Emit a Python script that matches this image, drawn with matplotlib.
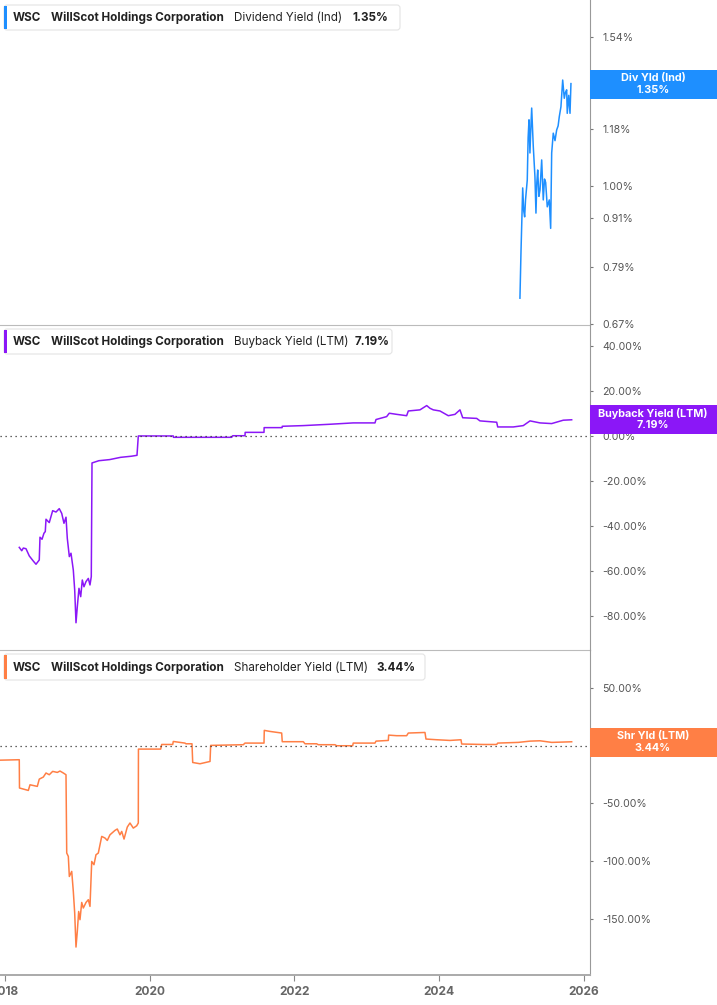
import matplotlib
matplotlib.use("Agg")
import matplotlib.pyplot as plt
import matplotlib.patches as mpatches
from matplotlib.ticker import FixedLocator, NullLocator, FuncFormatter

plt.rcParams['font.family'] = ['Inter', 'DejaVu Sans']

# ---- data (x in decimal years, values in %) ----
div_t = [2025.113, 2025.127, 2025.151, 2025.165, 2025.178, 2025.190, 2025.214, 2025.226,
         2025.238, 2025.251, 2025.263, 2025.275, 2025.297, 2025.320, 2025.334, 2025.346,
         2025.358, 2025.375, 2025.390, 2025.413, 2025.435, 2025.452, 2025.468, 2025.490,
         2025.518, 2025.537, 2025.551, 2025.573, 2025.597, 2025.620, 2025.640, 2025.656,
         2025.679, 2025.703, 2025.725, 2025.740, 2025.758, 2025.766, 2025.786, 2025.804,
         2025.817]
div_v = [0.722, 0.823, 0.994, 0.930, 0.914, 0.960, 1.017, 1.150, 1.211, 1.100, 1.180,
         1.253, 1.121, 1.027, 0.924, 1.010, 1.047, 0.970, 0.988, 1.078, 0.960, 1.020,
         1.010, 0.941, 0.960, 0.884, 1.100, 1.165, 1.140, 1.176, 1.190, 1.222,
         1.258, 1.359, 1.289, 1.310, 1.321, 1.234, 1.300, 1.234, 1.345]

bb_t = [2018.202, 2018.236, 2018.258, 2018.295, 2018.340, 2018.396, 2018.433, 2018.478,
        2018.488, 2018.516, 2018.543, 2018.561, 2018.571, 2018.616, 2018.663, 2018.709,
        2018.754, 2018.788, 2018.819, 2018.847, 2018.865, 2018.893, 2018.916, 2018.948,
        2018.967, 2018.985, 2019.003, 2019.026, 2019.050, 2019.072, 2019.095, 2019.123,
        2019.155, 2019.178, 2019.196, 2019.206, 2019.300, 2019.450, 2019.600, 2019.750,
        2019.827, 2019.845, 2020.328, 2020.330, 2021.134, 2021.148, 2021.318, 2021.320,
        2021.580, 2021.582, 2021.830, 2021.832, 2022.122, 2022.491, 2022.812, 2023.112,
        2023.126, 2023.273, 2023.309, 2023.412, 2023.549, 2023.572, 2023.733, 2023.826,
        2023.871, 2023.917, 2024.009, 2024.124, 2024.216, 2024.285, 2024.323, 2024.516,
        2024.561, 2024.792, 2024.806, 2025.021, 2025.159, 2025.252, 2025.389, 2025.551,
        2025.711, 2025.827]
bb_v = [-49.5, -51.0, -49.8, -50.1, -53.3, -55.6, -57.0, -55.1, -45.0, -45.9, -43.2,
        -42.5, -37.0, -38.5, -33.2, -33.8, -32.3, -34.4, -38.8, -36.1, -45.5, -53.6,
        -52.1, -59.6, -68.4, -83.0, -75.9, -67.7, -71.4, -64.0, -67.0, -64.7, -63.3,
        -66.2, -62.5, -12.0, -11.0, -10.5, -9.5, -9.0, -8.6, 0.0, 0.0, -0.6, -0.6, 0.1,
        0.1, 1.6, 1.6, 3.7, 3.7, 4.3, 4.6, 5.2, 5.8, 5.8, 7.3, 8.6, 10.1, 9.6, 9.0, 11.1,
        11.6, 13.5, 12.3, 11.6, 11.1, 9.0, 9.6, 11.6, 8.1, 7.8, 6.7, 6.1, 4.0, 4.0, 4.6,
        6.7, 5.8, 5.5, 7.0, 7.19]

shr_t = [2017.800, 2018.202, 2018.205, 2018.258, 2018.327, 2018.350, 2018.451, 2018.478,
         2018.534, 2018.571, 2018.616, 2018.663, 2018.727, 2018.764, 2018.810, 2018.847,
         2018.857, 2018.879, 2018.893, 2018.926, 2018.948, 2018.967, 2018.985, 2019.003,
         2019.022, 2019.040, 2019.064, 2019.086, 2019.123, 2019.155, 2019.178, 2019.202,
         2019.233, 2019.261, 2019.293, 2019.340, 2019.385, 2019.417, 2019.454, 2019.523,
         2019.555, 2019.592, 2019.616, 2019.648, 2019.693, 2019.730, 2019.776, 2019.823,
         2019.845, 2019.847, 2020.154, 2020.168, 2020.320, 2020.328, 2020.489, 2020.503,
         2020.586, 2020.596, 2020.697, 2020.835, 2020.844, 2021.294, 2021.318, 2021.580,
         2021.584, 2021.663, 2021.824, 2021.832, 2022.122, 2022.146, 2022.307, 2022.329,
         2022.560, 2022.583, 2022.804, 2022.812, 2023.112, 2023.126, 2023.296, 2023.301,
         2023.412, 2023.549, 2023.572, 2023.802, 2023.816, 2023.963, 2024.147, 2024.299,
         2024.309, 2024.607, 2024.792, 2024.806, 2025.090, 2025.252, 2025.389, 2025.551,
         2025.711, 2025.827]
shr_v = [-12.7, -12.1, -36.6, -37.5, -38.7, -33.8, -35.2, -28.9, -27.1, -23.6, -25.1,
         -22.2, -23.1, -21.9, -23.6, -25.1, -92.9, -95.8, -113.2, -108.8, -126.1, -144.8,
         -174.3, -160.8, -143.5, -150.6, -135.7, -140.5, -135.7, -133.3, -139.1, -100.2,
         -103.0, -94.4, -92.9, -78.5, -79.9, -82.0, -77.1, -73.3, -72.1, -77.1, -74.2,
         -80.8, -70.4, -66.9, -71.3, -69.3, -66.9, -2.9, -2.9, 1.1, 1.1, 3.7, 2.3, 1.7,
         1.7, -14.5, -15.6, -13.6, 0.3, 0.9, 2.3, 2.3, 13.3, 12.4, 11.0, 3.5, 3.5, 1.7,
         1.7, 0.9, 0.9, 0.0, 0.0, 2.3, 2.3, 4.0, 4.6, 9.2, 8.7, 8.7, 11.0, 11.5, 5.8, 5.2,
         4.6, 5.2, 1.5, 1.1, 1.1, 2.3, 2.9, 4.0, 4.3, 2.9, 3.2, 3.44]

div_ticks = [0.67, 0.79, 0.91, 1.00, 1.18, 1.36, 1.54]
bb_ticks = [-80, -60, -40, -20, 0, 20, 40]
shr_ticks = [-150, -100, -50, 0, 50]
year_ticks = [2018, 2020, 2022, 2024, 2026]

BLUE = '#1e8fff'
PURPLE = '#8b17f7'
ORANGE = '#ff7f45'

W, H = 717, 1005
fig = plt.figure(figsize=(W / 100, H / 100), dpi=100)


def inch(x, y):
    return x / 100, (H - y) / 100


def panel(top, bottom):
    return fig.add_axes([0, 1 - bottom / H, 590 / W, (bottom - top) / H])


ax1 = panel(0, 325)
ax2 = panel(325, 650)
ax3 = panel(650, 975)

xmin, xmax = 2017.936, 2026.08

ax1.plot(div_t, div_v, color=BLUE, lw=1.1)
ax1.set_yscale('log')
ax1.set_ylim(0.668, 1.714)

ax2.plot(bb_t, bb_v, color=PURPLE, lw=1.1)
ax2.set_ylim(-95.1, 49.3)
ax2.axhline(0, color='#333333', ls=(0, (1, 3)), lw=0.9)

ax3.plot(shr_t, shr_v, color=ORANGE, lw=1.1)
ax3.set_ylim(-198.5, 82.9)
ax3.axhline(0, color='#333333', ls=(0, (1, 3)), lw=0.9)

pct2 = FuncFormatter(lambda v, p: f'{v:.2f}%')
for ax, ticks in [(ax1, div_ticks), (ax2, bb_ticks), (ax3, shr_ticks)]:
    ax.set_xlim(xmin, xmax)
    ax.yaxis.set_major_locator(FixedLocator(ticks))
    ax.yaxis.set_minor_locator(NullLocator())
    ax.yaxis.set_major_formatter(pct2)
    ax.yaxis.tick_right()
    ax.tick_params(axis='y', which='both', length=2, color='#777777', labelsize=7.6,
                   labelcolor='#555555', pad=7)
    ax.spines['top'].set_visible(False)
    ax.spines['left'].set_visible(False)
    ax.spines['right'].set_color('#999999')
    ax.spines['bottom'].set_color('#bbbbbb')
    ax.set_facecolor('none')

for ax in (ax1, ax2):
    ax.set_xticks([])

ax3.set_xticks(year_ticks)
ax3.set_xticklabels([str(y) for y in year_ticks], fontweight='bold')
ax3.tick_params(axis='x', length=4, color='#888888', labelsize=8.6, labelcolor='#666666', pad=4)
ax3.spines['bottom'].set_color('#aaaaaa')
ax3.spines['bottom'].set_linewidth(1.4)

# header boxes
headers = [
    (5, 30, 400, BLUE, 'Dividend Yield (Ind)', '1.35%', 352),
    (329, 354, 392, PURPLE, 'Buyback Yield (LTM)', '7.19%', 355),
    (654, 680, 425, ORANGE, 'Shareholder Yield (LTM)', '3.44%', 376),
]
HFS = 8.4
for y0, y1, x1, col, label, val, vx in headers:
    x0 = 4
    bx, by = inch(x0, y1)
    box = mpatches.FancyBboxPatch((bx, by), (x1 - x0) / 100, (y1 - y0) / 100,
                                  boxstyle='round,pad=0,rounding_size=0.03',
                                  transform=fig.dpi_scale_trans, facecolor='white',
                                  edgecolor='#e4e4e4', lw=0.8, zorder=5)
    fig.patches.append(box)
    bar = mpatches.Rectangle(inch(x0, y1 - 1), 0.03, (y1 - y0 - 2) / 100,
                             transform=fig.dpi_scale_trans, facecolor=col,
                             edgecolor='none', zorder=6)
    fig.patches.append(bar)
    yc = 1 - ((y0 + y1) / 2 + 0.5) / H
    fig.text(13 / W, yc, 'WSC', fontsize=HFS, fontweight='bold', color='#222222', va='center', zorder=7)
    fig.text(51 / W, yc, 'WillScot Holdings Corporation', fontsize=HFS, fontweight='bold',
             color='#222222', va='center', zorder=7)
    fig.text(234 / W, yc, label, fontsize=HFS, color='#222222', va='center', zorder=7)
    fig.text(vx / W, yc, val, fontsize=HFS, fontweight='bold', color='#222222', va='center', zorder=7)

# right value tags
tags = [
    (70, 99, BLUE, 'Div Yld (Ind)', '1.35%'),
    (405, 434, PURPLE, 'Buyback Yield (LTM)', '7.19%'),
    (728, 757, ORANGE, 'Shr Yld (LTM)', '3.44%'),
]
for y0, y1, col, name, val in tags:
    rect = mpatches.Rectangle(inch(590, y1), 127 / 100, (y1 - y0) / 100,
                              transform=fig.dpi_scale_trans, facecolor=col,
                              edgecolor='none', zorder=5)
    fig.patches.append(rect)
    fig.text(653 / W, 1 - (y0 + 8) / H, name, fontsize=7.8, fontweight='bold', color='white',
             ha='center', va='center', zorder=6)
    fig.text(653 / W, 1 - (y0 + 20) / H, val, fontsize=7.8, fontweight='bold', color='white',
             ha='center', va='center', zorder=6)

fig.savefig('out.png', dpi=100)
